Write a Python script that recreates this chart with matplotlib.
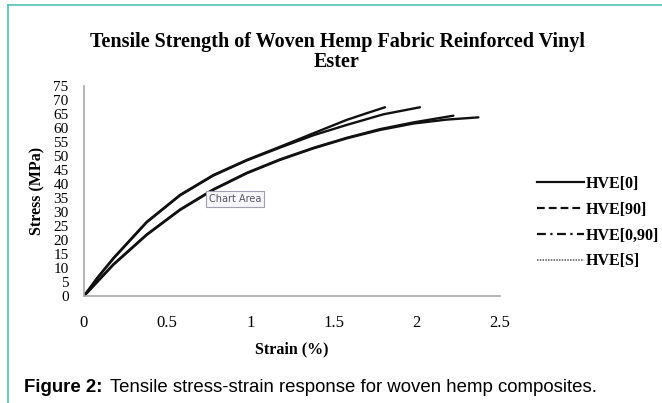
import matplotlib.pyplot as plt
from matplotlib.lines import Line2D

# --- data ---
strain_0 = [0, 0.08, 0.176, 0.377, 0.577, 0.777, 0.978, 1.178, 1.378, 1.579, 1.70, 1.809]
stress_0 = [0, 6.5, 13.5, 26.5, 36.1, 43.2, 48.6, 53.3, 58.1, 62.9, 65.3, 67.4]

strain_90 = [0, 0.08, 0.176, 0.377, 0.577, 0.777, 0.978, 1.178, 1.378, 1.579, 1.80, 2.019]
stress_90 = [0, 6.4, 13.3, 26.3, 35.9, 43.0, 48.4, 53.0, 57.4, 61.1, 64.9, 67.4]

strain_0_90 = [0, 0.08, 0.176, 0.377, 0.577, 0.777, 0.978, 1.178, 1.378, 1.579, 1.779, 1.98, 2.22]
stress_0_90 = [0, 5.2, 11.3, 22.0, 30.9, 38.1, 44.0, 48.8, 52.9, 56.5, 59.6, 62.0, 64.4]

strain_s = [0, 0.08, 0.176, 0.377, 0.577, 0.777, 0.978, 1.178, 1.378, 1.579, 1.779, 1.98, 2.18, 2.37]
stress_s = [0, 5.0, 11.1, 21.8, 30.7, 37.9, 43.8, 48.6, 52.7, 56.3, 59.3, 61.6, 63.0, 63.8]

labels = ['HVE[0]', 'HVE[90]', 'HVE[0,90]', 'HVE[S]']
styles = ['-', (0, (3.5, 1.8)), (0, (4, 2, 1, 2)), (0, (1, 0.8))]

x_ticks = [0, 0.5, 1, 1.5, 2, 2.5]
x_ticklabels = ['0', '0.5', '1', '1.5', '2', '2.5']
y_ticks = list(range(0, 80, 5))

serif = ['Liberation Serif', 'DejaVu Serif']

fig = plt.figure(figsize=(6.62, 4.03), dpi=100)
ax = fig.add_axes([84 / 662, 107 / 403, 416 / 662, 210 / 403])

series = [(strain_0, stress_0), (strain_90, stress_90),
          (strain_0_90, stress_0_90), (strain_s, stress_s)]
for (xs, ys) in series:
    ax.plot(xs, ys, color='#111111', lw=1.7, solid_capstyle='round',
            solid_joinstyle='round')

ax.set_xlim(0, 2.5)
ax.set_ylim(0, 75)
ax.set_xticks(x_ticks)
ax.set_xticklabels(x_ticklabels, fontfamily=serif, fontsize=12)
ax.set_yticks(y_ticks)
ax.set_yticklabels([str(v) for v in y_ticks], fontfamily=serif, fontsize=11)
ax.tick_params(axis='y', length=0, pad=11)
ax.tick_params(axis='x', length=0, pad=14)
for s in ['top', 'right']:
    ax.spines[s].set_visible(False)
for s in ['left', 'bottom']:
    ax.spines[s].set_color('#a8a8a8')
    ax.spines[s].set_linewidth(1.2)

ax.set_xlabel('Strain (%)', fontfamily=serif, fontweight='bold', fontsize=11.5, labelpad=7)
ax.set_ylabel('Stress (MPa)', fontfamily=serif, fontweight='bold', fontsize=11.5, labelpad=6)

fig.text(337 / 662, 1 - 52 / 403, 'Tensile Strength of Woven Hemp Fabric Reinforced Vinyl\nEster',
         ha='center', va='center', fontfamily=serif, fontweight='bold',
         fontsize=14.5, linespacing=1.05)

# legend with the series line styles
handles = [Line2D([0], [0], color='#111111' if i < 3 else '#555555',
                  lw=1.6 if i < 3 else 1.1, linestyle=st) for i, st in enumerate(styles)]
leg = fig.legend(handles, labels, loc='center left', bbox_to_anchor=(537 / 662, 1 - 222.5 / 403),
                 frameon=False, borderpad=0, borderaxespad=0,
                 handlelength=2.95, handletextpad=0.08,
                 labelspacing=0.62, prop={'family': serif, 'weight': 'bold', 'size': 11.5})

# excel tooltip left in the screenshot
fig.text(235 / 662, 1 - 199 / 403, 'Chart Area', ha='center', va='center',
         fontsize=7, color='#555566', family='DejaVu Sans',
         bbox=dict(boxstyle='square,pad=0.3', fc='#f6f6fa', ec='#a0a0b0', lw=0.8))

fig.text(24 / 662, 1 - 388 / 403, 'Figure 2:', ha='left', va='center',
         fontfamily='Liberation Sans', fontweight='bold', fontsize=13.4)
fig.text(110 / 662, 1 - 388 / 403, 'Tensile stress-strain response for woven hemp composites.',
         ha='left', va='center', fontfamily='Liberation Sans', fontsize=13.4)

# teal frame of the page
teal = '#4cc4b6'
fig.add_artist(Line2D([8 / 662, 8 / 662], [0, 1 - 5 / 403], color=teal, lw=1.2,
                      transform=fig.transFigure))
fig.add_artist(Line2D([8 / 662, 1], [1 - 5 / 403, 1 - 5 / 403], color=teal, lw=1.2,
                      transform=fig.transFigure))

fig.savefig('out.png', dpi=100)
